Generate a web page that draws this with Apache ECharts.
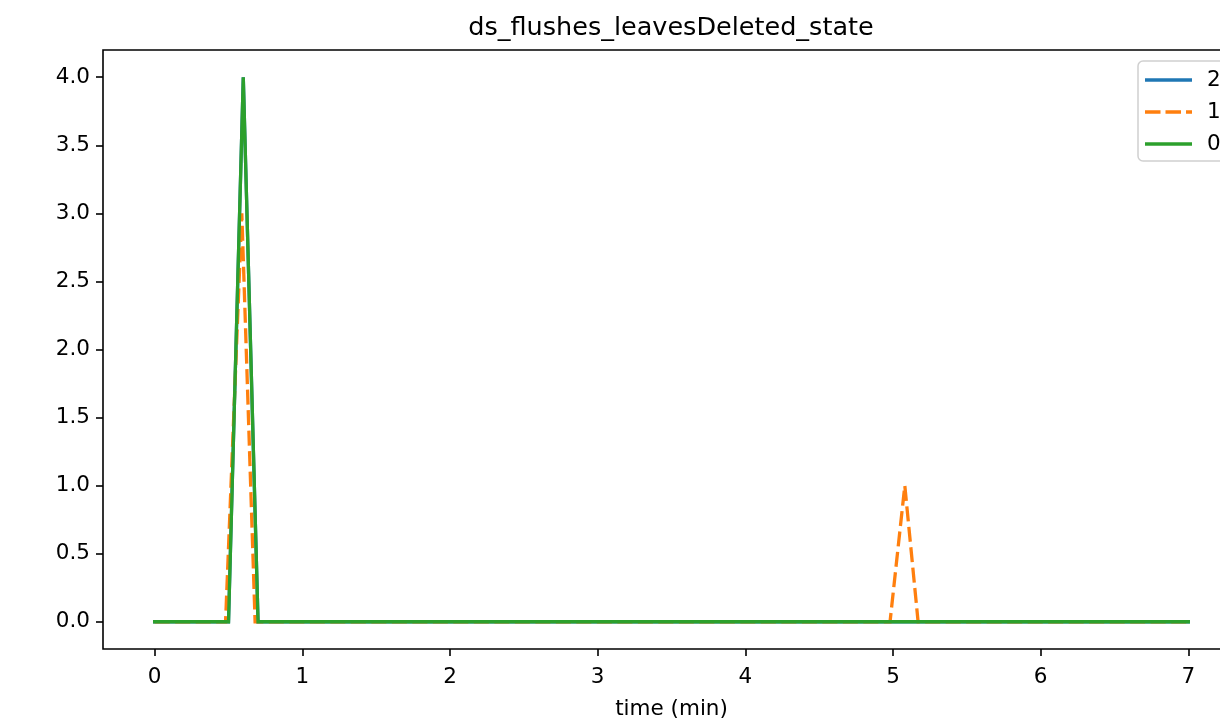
<!DOCTYPE html>
<html>
<head>
<meta charset="utf-8">
<script src="https://cdn.jsdelivr.net/npm/echarts@6/dist/echarts.min.js"></script>
<style>
html,body{margin:0;padding:0;background:#fff;}
#chart{width:1220px;height:721px;}
</style>
</head>
<body>
<div id="chart"></div>
<script>
// ---- data ----
const title = 'ds_flushes_leavesDeleted_state';
const xName = 'time (min)';
const xTicks = [0, 1, 2, 3, 4, 5, 6, 7];
const yTicks = [0, 0.5, 1, 1.5, 2, 2.5, 3, 3.5, 4];
const seriesNames = ['2', '1', '0'];
const time2 = [0, 0.5, 0.6, 0.7, 7];
const vals2 = [0, 0, 4, 0, 0];
const time1 = [0, 0.48, 0.59, 0.68, 4.98, 5.08, 5.17, 7];
const vals1 = [0, 0, 3, 0, 0, 1, 0, 0];
const time0 = [0, 0.5, 0.6, 0.7, 7];
const vals0 = [0, 0, 4, 0, 0];
const colors = ['#1f77b4', '#ff7f0e', '#2ca02c'];

const pairs = (t, v) => t.map((x, i) => [x, v[i]]);
const FONT = 'DejaVu Sans';
const DASH = [15, 5.5];
const SOLID_ICON = 'path://M0,0H47V3.3H0Z';
const DASH_ICON = 'path://M0,0H15.5V3.3H0Z M20.5,0H36V3.3H20.5Z M41,0H47V3.3H41Z';

const chart = echarts.init(document.getElementById('chart'), null, {renderer: 'canvas'});
const mk = (name, data, color, dashed) => ({
  name: name,
  type: 'line',
  data: data,
  showSymbol: false,
  symbol: 'none',
  clip: true,
  legendIcon: dashed ? DASH_ICON : SOLID_ICON,
  lineStyle: {color: color, width: 3.3, type: dashed ? DASH : 'solid', cap: dashed ? 'butt' : 'square', join: 'miter'},
  itemStyle: {color: color},
  emphasis: {disabled: true}
});

chart.setOption({
  animation: false,
  backgroundColor: '#fff',
  title: {
    text: title,
    left: 666,
    top: 10,
    textAlign: 'center',
    textStyle: {fontFamily: FONT, fontSize: 25.5, fontWeight: 'normal', color: '#000'}
  },
  grid: {
    left: 103, top: 50, width: 1137, height: 599,
    outerBoundsMode: 'none',
    containLabel: false,
    show: true, borderColor: '#000', borderWidth: 1.6, backgroundColor: 'transparent'
  },
  legend: {
    orient: 'vertical',
    left: 1138, top: 61,
    padding: [8, 10, 6, 7],
    itemWidth: 47, itemHeight: 3.3, itemGap: 10,
    borderColor: '#d0d0d0', borderWidth: 1.5, borderRadius: 5,
    backgroundColor: 'rgba(255,255,255,0.8)',
    textStyle: {fontFamily: FONT, fontSize: 21.5, color: '#000', padding: [0, 0, 0, 10], lineHeight: 22},
    data: seriesNames.map((n, i) => ({name: n, icon: i === 1 ? DASH_ICON : SOLID_ICON, itemStyle: {color: colors[i]}}))
  },
  xAxis: {
    type: 'value',
    min: -0.35, max: 7.35,
    name: xName,
    nameLocation: 'middle',
    nameGap: 49,
    nameTextStyle: {fontFamily: FONT, fontSize: 21.5, color: '#000'},
    axisLine: {show: false, onZero: false},
    splitLine: {show: false},
    axisTick: {show: true, inside: false, length: 7, lineStyle: {color: '#000', width: 1.6}, customValues: xTicks},
    axisLabel: {fontFamily: FONT, fontSize: 21.5, color: '#000', margin: 17, customValues: xTicks, formatter: v => String(v)}
  },
  yAxis: {
    type: 'value',
    min: -0.2, max: 4.2,
    axisLine: {show: false, onZero: false},
    splitLine: {show: false},
    axisTick: {show: true, inside: false, length: 7, lineStyle: {color: '#000', width: 1.6}, customValues: yTicks},
    axisLabel: {fontFamily: FONT, fontSize: 21.5, color: '#000', margin: 13, customValues: yTicks, formatter: v => v.toFixed(1)}
  },
  series: [
    mk(seriesNames[0], pairs(time2, vals2), colors[0], false),
    mk(seriesNames[1], pairs(time1, vals1), colors[1], true),
    mk(seriesNames[2], pairs(time0, vals0), colors[2], false)
  ]
});
</script>
</body>
</html>
